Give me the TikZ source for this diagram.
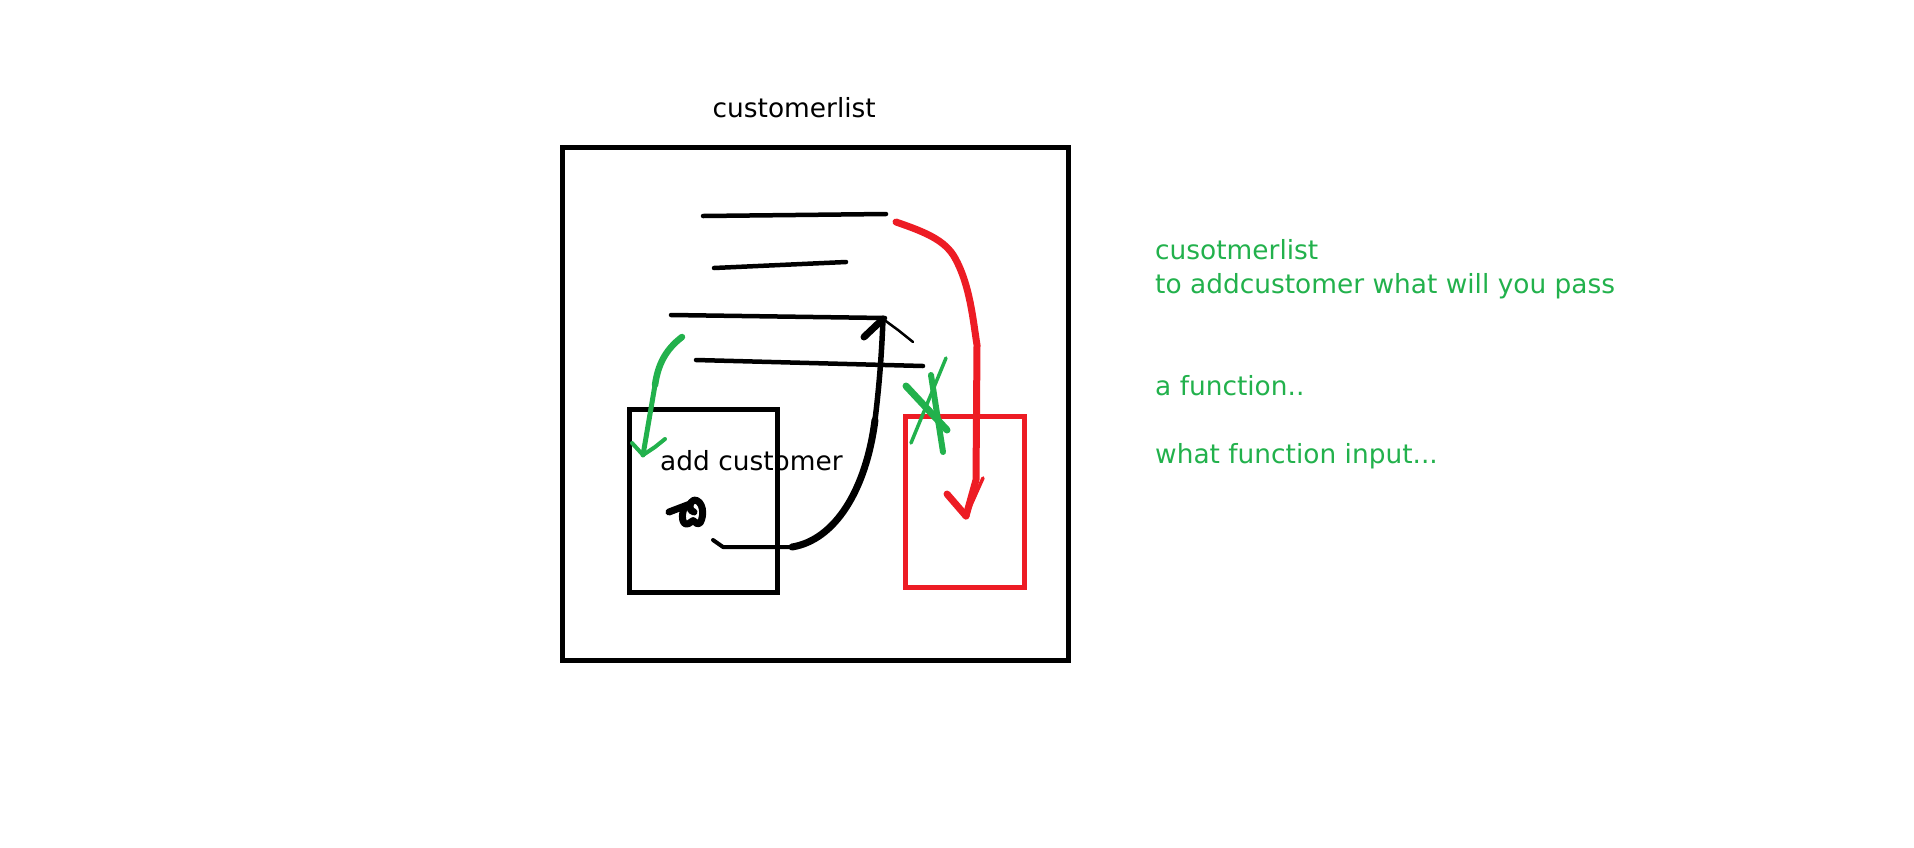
\documentclass[tikz,border=0pt]{standalone}
\usepackage{fontspec}
\setmainfont{DejaVu Sans}
\definecolor{paintgreen}{HTML}{22B14C}
\definecolor{paintred}{HTML}{ED1C24}
\tikzset{
  sketch/.style={line width=4.5pt,line cap=round,line join=round},
  boxline/.style={line width=5pt},
  lbl/.style={anchor=base west,inner sep=0pt,font=\fontsize{26.4}{34}\selectfont},
}
\begin{document}
\begin{tikzpicture}[x=1pt,y=-1pt]
\useasboundingbox (0,0) rectangle (1914,847);
% --- boxes ---
\draw[boxline] (562.5,147.5) rectangle (1068.5,660);
\draw[boxline] (629,409) rectangle (777.5,592);
\draw[boxline,paintred] (905,416.5) rectangle (1024.3,587.5);
% --- labels ---
\node[lbl] (listlbl) at (712.5,117) {customerlist};
\node[lbl] (addlbl) at (660,470) {add customer};
\node[lbl,paintgreen] (q1) at (1155,259) {cusotmerlist};
\node[lbl,paintgreen] (q2) at (1155,293) {to addcustomer what will you pass};
\node[lbl,paintgreen] (a1) at (1155,395) {a function..};
\node[lbl,paintgreen] (a2) at (1155,463) {what function input...};
% --- list entries ---
\draw[sketch] (703,216) -- (795,215) -- (886,214);
\draw[sketch] (714,268) -- (846,262);
\draw[sketch] (671,315) -- (885,318);
\draw[sketch] (696,360) -- (923,366);
% --- black arrow back to the list ---
\coordinate (blktail) at (713,540);
\coordinate (blkmid) at (875,420);
\coordinate (blktip) at (883,319);
\draw[sketch,line width=4pt] (blktail) -- (723,547) -- (792,547);
\draw[sketch,line width=7pt] (792,547)
  .. controls (835,540) and (866,490) .. (blkmid);
\draw[sketch,line width=5.5pt] (blkmid)
  .. controls (880,380) and (882,345) .. (blktip);
\draw[sketch,line width=7pt] (864,337) -- (blktip);
\draw[sketch,line width=2.5pt] (blktip) -- (898,330) -- (913,342);
% --- scribble ---
\draw[sketch,line width=7pt] (669,512) -- (690,504)
  (684,508) .. controls (680,520) and (684,528) .. (691,522)
  .. controls (694,517) and (696,527) .. (700,523)
  .. controls (705,515) and (703,500) .. (694,500)
  .. controls (688,502) and (689,512) .. (694,512);
% --- red arrow ---
\coordinate (redtail) at (896,222);
\coordinate (redtip) at (966,516);
\draw[sketch,paintred,line width=7pt] (redtail)
  .. controls (925,232) and (945,240) .. (955,258)
  .. controls (970,285) and (973,320) .. (977,345) -- (976,480) -- (redtip);
\draw[sketch,paintred,line width=7pt] (947,494) -- (redtip);
\draw[sketch,paintred,line width=3.5pt] (redtip) -- (983,478);
% --- green arrow ---
\coordinate (grntail) at (682,337);
\coordinate (grntip) at (643,455);
\draw[sketch,paintgreen,line width=6.5pt] (grntail)
  .. controls (665,350) and (658,365) .. (655,385);
\draw[sketch,paintgreen,line width=5pt] (655,385) -- (grntip);
\draw[sketch,paintgreen,line width=4pt] (632,443) -- (grntip) -- (655,447) -- (665,439);
% --- green cross ---
\draw[sketch,paintgreen,line width=7pt] (906,386) -- (947,430);
\draw[sketch,paintgreen,line width=6pt] (931,375) -- (943,452);
\draw[sketch,paintgreen,line width=3.5pt] (946,358) -- (911,443);
\end{tikzpicture}
\end{document}
